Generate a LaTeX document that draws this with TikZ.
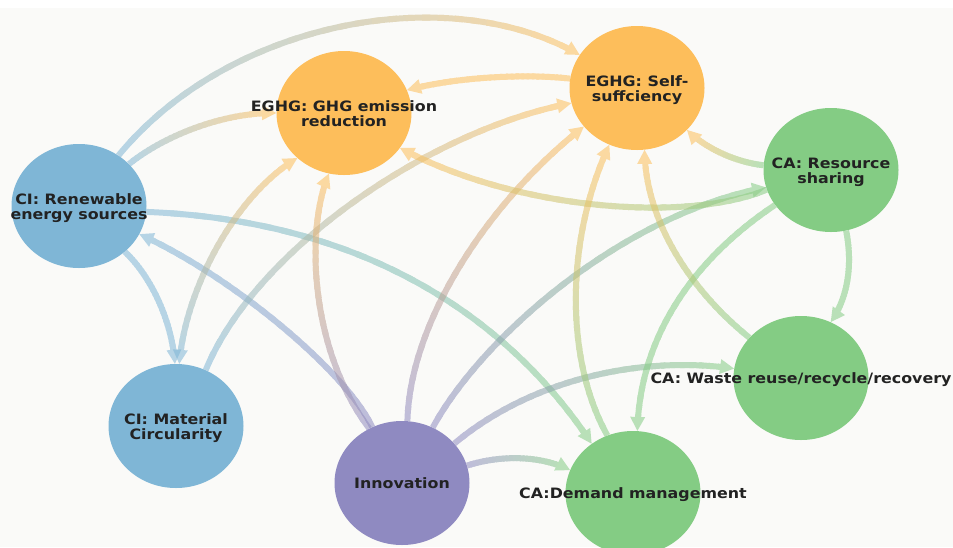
\documentclass[tikz,border=0pt]{standalone}
\usepackage{fontspec}
\setmainfont{DejaVu Sans}
\usepackage{graphicx}
\usetikzlibrary{shapes.geometric,arrows.meta,decorations.markings}

\definecolor{cBlue}{RGB}{127,182,214}
\definecolor{cOrange}{RGB}{253,190,91}
\definecolor{cGreen}{RGB}{132,204,132}
\definecolor{cPurple}{RGB}{143,138,193}
\definecolor{cText}{RGB}{34,34,34}
\definecolor{cBack}{RGB}{250,250,248}

\pgfdeclarelayer{backdrop}
\pgfdeclarelayer{links}
\pgfsetlayers{backdrop,links,main}

% two-line bold labels, slightly widened
\newcommand\labfont{\fontsize{14.3}{14.5}\selectfont\bfseries}
\newcommand\lbl[1]{\scalebox{1.11}[1]{\begin{tabular}{@{}c@{}}#1\end{tabular}}}

\tikzset{
  nd/.style={ellipse, minimum width=135pt, minimum height=124pt, inner sep=0pt},
  lab/.style={inner sep=0pt, text=cText, font=\labfont, yshift=-2.5pt}
}

% Curved link whose colour runs from #5 (start) to #6 (end).
% #1 start, #2 #3 control points, #4 end, #7 = 1 adds a tip at the start too.
\newcommand\gedge[7]{%
  \begin{scope}[opacity=0.55,transparency group]
  \begin{scope}[opacity=1,line width=6pt]
    \coordinate (gP) at #1;
    \coordinate (gC) at #2;
    \coordinate (gD) at #3;
    \coordinate (gQ) at #4;
    \pgfpointdiff{\pgfpointanchor{gD}{center}}{\pgfpointanchor{gQ}{center}}%
    \pgfgetlastxy{\gdx}{\gdy}%
    \pgfmathsetmacro\tend{1-7/(3*veclen(\gdx,\gdy))}%
    \pgfpointdiff{\pgfpointanchor{gP}{center}}{\pgfpointanchor{gC}{center}}%
    \pgfgetlastxy{\gdx}{\gdy}%
    \pgfmathsetmacro\tbeg{#7*7/(3*veclen(\gdx,\gdy))}%
    \foreach \i in {0,...,29}{%
      \pgfmathsetmacro\ta{\tbeg+(\tend-\tbeg)*\i/30}%
      \pgfmathsetmacro\tb{\tbeg+(\tend-\tbeg)*min(30,\i+1.5)/30}%
      \pgfmathsetmacro\mixv{100-100*(\i+0.5)/30}%
      \colorlet{gseg}{#5!\mixv!#6}%
      \pgfpathcurvebetweentime{\ta}{\tb}{\pgfpointanchor{gP}{center}}{\pgfpointanchor{gC}{center}}{\pgfpointanchor{gD}{center}}{\pgfpointanchor{gQ}{center}}%
      \pgfsetstrokecolor{gseg}%
      \pgfusepath{stroke}%
    }%
    \path[decorate,decoration={markings,mark=at position 0.9999 with
      {\arrow{Triangle[length=14pt,width=15pt,line width=0pt,color=#6]}}}]
      (gP) .. controls (gC) and (gD) .. (gQ);
    \ifnum#7=1
    \path[decorate,decoration={markings,mark=at position 0.0001 with
      {\arrowreversed{Triangle[length=14pt,width=15pt,line width=0pt,color=#5]}}}]
      (gP) .. controls (gC) and (gD) .. (gQ);
    \fi
  \end{scope}
  \end{scope}}

\begin{document}
\begin{tikzpicture}[x=1pt,y=-1pt]
\useasboundingbox (0,0) rectangle (953,547);
\begin{pgfonlayer}{backdrop}
  \fill[white] (0,0) rectangle (953,547);
  \fill[cBack] (0,8) rectangle (953,547);
\end{pgfonlayer}

% nodes (fixed-size discs)
\node[nd, fill=cBlue]   (ren)   at (79,206)  {};
\node[nd, fill=cBlue]   (mat)   at (176,426) {};
\node[nd, fill=cPurple] (inn)   at (402,483) {};
\node[nd, fill=cOrange] (ghg)   at (344,113) {};
\node[nd, fill=cOrange] (self)  at (637,88)  {};
\node[nd, fill=cGreen]  (res)   at (831,170) {};
\node[nd, fill=cGreen]  (waste) at (801,378) {};
\node[nd, fill=cGreen]  (dem)   at (633,493) {};

% labels, centred on their discs
\node[lab] (renT)   at (ren)   {\lbl{CI: Renewable\\energy sources}};
\node[lab] (matT)   at (mat)   {\lbl{CI: Material\\Circularity}};
\node[lab] (innT)   at (inn)   {\lbl{Innovation}};
\node[lab] (ghgT)   at (ghg)   {\lbl{EGHG: GHG emission\\reduction}};
\node[lab] (selfT)  at (self)  {\lbl{EGHG: Self-\\suffciency}};
\node[lab] (resT)   at (res)   {\lbl{CA: Resource\\sharing}};
\node[lab] (wasteT) at (waste) {\lbl{CA: Waste reuse/recycle/recovery}};
\node[lab] (demT)   at (dem)   {\lbl{CA:Demand management}};

% links
\begin{pgfonlayer}{links}
\gedge{(ren.52)}{(230,20)}{(450,-20)}{(self.150)}{cBlue}{cOrange}{0}
\gedge{(ren.40)}{(165,135)}{(225,112)}{(ghg.180)}{cBlue}{cOrange}{0}
\gedge{(ren.-5)}{(400,222)}{(530,350)}{(dem.130)}{cBlue}{cGreen}{0}
\gedge{(inn.118)}{(345,370)}{(230,275)}{(ren.-25)}{cPurple}{cBlue}{0}
\gedge{(ren.-45)}{(150,275)}{(172,320)}{(mat.91)}{cBlue}{cBlue}{0}
\gedge{(mat.87)}{(185,290)}{(235,195)}{(ghg.-136)}{cBlue}{cOrange}{1}
\gedge{(mat.62)}{(255,250)}{(430,130)}{(self.-167)}{cBlue}{cOrange}{0}
\gedge{(inn.121)}{(310,350)}{(305,230)}{(ghg.-104)}{cPurple}{cOrange}{0}
\gedge{(inn.85)}{(410,320)}{(490,200)}{(self.-144)}{cPurple}{cOrange}{0}
\gedge{(inn.61)}{(480,340)}{(620,215)}{(res.-165)}{cPurple}{cGreen}{0}
\gedge{(inn.37)}{(530,380)}{(640,355)}{(waste.172)}{cPurple}{cGreen}{0}
\gedge{(inn.15)}{(500,455)}{(540,455)}{(dem.160)}{cPurple}{cGreen}{0}
\gedge{(res.-163)}{(690,222)}{(520,212)}{(ghg.-32)}{cGreen}{cOrange}{0}
\gedge{(res.176)}{(735,162)}{(705,148)}{(self.-40)}{cGreen}{cOrange}{0}
\gedge{(res.-76)}{(852,260)}{(850,295)}{(waste.62)}{cGreen}{cGreen}{0}
\gedge{(res.-148)}{(700,255)}{(640,330)}{(dem.86)}{cGreen}{cGreen}{0}
\gedge{(waste.142)}{(690,290)}{(645,220)}{(self.-83)}{cGreen}{cOrange}{0}
\gedge{(dem.114)}{(565,360)}{(565,240)}{(self.-116)}{cGreen}{cOrange}{0}
\gedge{(self.172)}{(530,74)}{(460,76)}{(ghg.20)}{cOrange}{cOrange}{0}
\end{pgfonlayer}
\end{tikzpicture}
\end{document}
